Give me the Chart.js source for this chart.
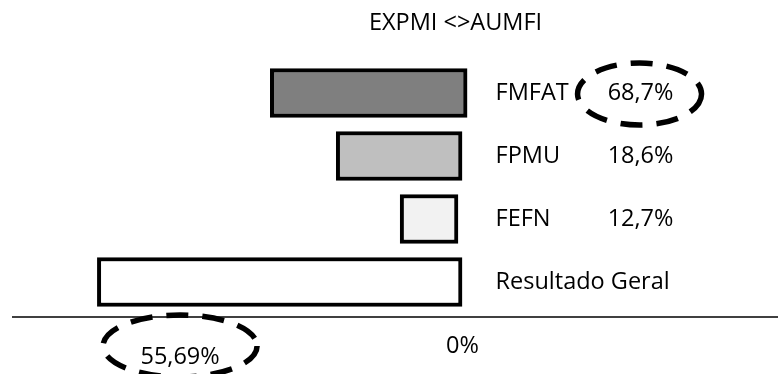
<!DOCTYPE html>
<html><head><meta charset="utf-8">
<script src="https://cdn.jsdelivr.net/npm/chart.js@4/dist/chart.umd.min.js"></script>
<style>html,body{margin:0;padding:0;background:#fff;overflow:hidden}#wrap{width:778px;height:374px;position:relative}</style>
</head><body><div id="wrap"><canvas id="c" width="778" height="374"></canvas></div>
<script>
// ---- data ----
const categories = ['FMFAT', 'FPMU', 'FEFN', 'Resultado Geral'];
const barStart = [-37.9, -24.9, -12.3, -72.0];   // left ends (axis units, % to the left of 0)
const barEnd = [0.9, -0.1, -0.9, -0.1];          // right ends
const shareLabels = ['68,7%', '18,6%', '12,7%', ''];
const shareHighlighted = [true, false, false, false];
const axisMarks = [-55.69, 0];
const axisLabels = ['55,69%', '0%'];
const axisHighlighted = [true, false];
const chartTitle = 'EXPMI <>AUMFI';
const barColors = ['#7f7f7f', '#bfbfbf', '#f2f2f2', '#ffffff'];

const FONT = '23.5px "Open Sans"';

function dashedEllipse(ctx, cx, cy, rx, ry) {
  ctx.save();
  ctx.strokeStyle = '#000';
  ctx.lineWidth = 5.5;
  ctx.setLineDash([22, 14]);
  ctx.beginPath();
  ctx.ellipse(cx, cy, rx, ry, 0, 0, Math.PI * 2);
  ctx.stroke();
  ctx.restore();
}

const annot = {
  id: 'annot',
  afterDraw(chart) {
    const ctx = chart.ctx, xs = chart.scales.x, ys = chart.scales.y, a = chart.chartArea;
    const x0 = xs.getPixelForValue(0);
    ctx.save();
    ctx.fillStyle = '#000';
    ctx.font = FONT;
    ctx.textBaseline = 'middle';
    ctx.textAlign = 'center';
    ctx.fillText(chartTitle, x0 - 7, 23);
    categories.forEach((c, i) => {
      const y = ys.getPixelForValue(i);
      ctx.textAlign = 'left';
      ctx.fillText(c, x0 + 33, y);
      if (shareLabels[i]) {
        ctx.textAlign = 'center';
        ctx.fillText(shareLabels[i], x0 + 178, y);
      }
      if (shareHighlighted[i]) dashedEllipse(ctx, x0 + 177, y + 1, 62, 31);
    });
    const yr = a.bottom + 3.5;
    ctx.strokeStyle = '#000';
    ctx.lineWidth = 1.5;
    ctx.beginPath(); ctx.moveTo(12, yr); ctx.lineTo(a.right, yr); ctx.stroke();
    axisMarks.forEach((v, i) => {
      const px = xs.getPixelForValue(v);
      const hl = axisHighlighted[i];
      ctx.textAlign = 'center';
      ctx.fillStyle = '#000';
      ctx.fillText(axisLabels[i], px, hl ? yr + 40 : yr + 29);
      if (hl) dashedEllipse(ctx, px, yr + 29, 77, 31);
    });
    ctx.restore();
  }
};

function draw() {
  new Chart(document.getElementById('c'), {
    type: 'bar',
    data: {
      labels: categories,
      datasets: [{
        data: categories.map((_, i) => [barStart[i], barEnd[i]]),
        backgroundColor: barColors,
        borderColor: '#000',
        borderWidth: 4,
        borderSkipped: false,
        barThickness: 49
      }]
    },
    options: {
      indexAxis: 'y',
      responsive: false,
      animation: false,
      events: [],
      layout: { padding: { top: 61.5, bottom: 60.5, left: 0, right: 0 } },
      scales: {
        x: { display: false, min: -91.2, max: 62.2 },
        y: { display: false }
      },
      plugins: { legend: { display: false }, title: { display: false }, tooltip: { enabled: false } }
    },
    plugins: [annot]
  });
}
(document.fonts && document.fonts.load ? document.fonts.load(FONT) : Promise.resolve()).then(draw, draw);
</script>
</body></html>
